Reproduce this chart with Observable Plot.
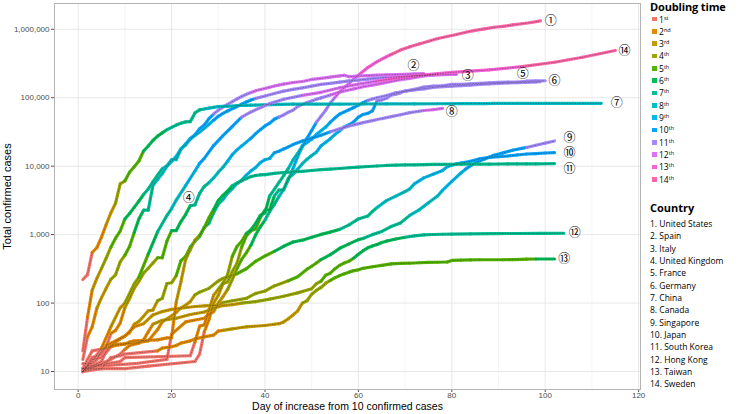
<!DOCTYPE html>
<html><head><meta charset="utf-8">
<script src="https://cdn.jsdelivr.net/npm/d3@7"></script>
<script src="https://cdn.jsdelivr.net/npm/@observablehq/plot@0.6"></script>
<style>
body{margin:0;background:#fff;}
#wrap{position:relative;width:738px;height:414px;overflow:hidden;background:#fff;}
#chart{position:absolute;left:0;top:0;}
.lg{position:absolute;font-family:"Open Sans","Noto Sans",sans-serif;color:#000;white-space:nowrap;}
</style></head><body>
<div id="wrap"><div id="chart"></div></div>
<script>
// ---- data: [day, total cases, doubling number (carried forward when omitted)]
const unitedStates = [[1,11,1],[4,12],[12,13],[19,15],[20,35,2],[23,53],[27,60],[28,68],[29,75,3],[30,100],[31,124],[32,158,4],[33,221],[34,319,5],[35,435],[36,541],[37,704,6],[38,994],[39,1301],[40,1630,7],[41,2183],[42,2770],[43,3613,8],[44,4596],[45,6344],[46,9197,9],[47,13779],[48,19273,10],[49,25600],[50,33276],[51,43847,11],[52,53740],[53,65778],[54,83836],[55,101657,12],[56,121465],[57,140909],[58,161831],[59,188172],[60,213242,13],[62,275367],[64,336802],[66,397121],[67,428654,14],[69,496535],[71,555313],[73,607670],[75,667592],[77,732197],[79,784326],[81,840351],[83,905358],[85,965785],[87,1012582],[89,1069424],[91,1103000],[93,1158000],[95,1204000],[97,1257000],[99,1329000]];
const spain = [[1,15,1],[2,32,2],[3,45],[4,84,3],[5,120],[6,165],[7,222,4],[8,259],[9,400],[10,500,5],[11,673],[12,1073,6],[13,1695],[14,2277,7],[15,2277],[16,5232,8],[17,6391],[18,7798],[19,9942],[20,11748,9],[21,13910],[22,17963],[23,20410],[24,25374,10],[25,28768],[26,35136],[27,39885],[28,49515],[29,57786,11],[30,65719],[31,73235],[32,80110],[33,87956],[34,95923],[35,104118],[36,112065],[37,119199,12],[38,126168],[39,131646],[40,136675],[41,141942],[42,148220],[43,153222],[44,158273],[46,166831],[48,172541],[50,184948],[52,191726],[54,200210],[56,208389],[57,213024],[58,202990],[60,207634],[62,210773],[64,213435],[66,216582],[68,218011],[70,220325],[72,222857],[74,224350]];
const italy = [[1,20,1],[2,62,2],[3,155,3],[4,229],[5,322,4],[6,453],[7,655,5],[8,888],[9,1128],[10,1694,6],[11,2036],[12,2502],[13,3089],[14,3858,7],[15,4636],[16,5883],[17,7375],[18,9172,8],[19,10149],[20,12462],[21,12462],[22,17660],[23,21157,9],[24,24747],[25,27980],[26,31506],[27,35713],[28,41035],[29,47021,10],[30,53578],[31,59138],[32,63927],[33,69176],[34,74386],[35,80589],[36,86498],[37,92472],[38,97689,11],[39,101739],[40,105792],[42,115242],[44,124632],[46,132547],[48,139422],[50,147577],[52,156363],[54,162488],[56,168941],[58,175925],[60,181228],[62,187327],[64,192994],[66,197675,12],[68,201505],[70,205463],[72,209328],[74,211938],[76,214457],[78,217185],[80,219070],[81,219814]];
const unitedKingdom = [[1,13,1],[3,13],[4,15],[5,20],[6,23],[7,36,2],[8,40],[9,51],[10,86,3],[11,116],[12,164],[13,207,4],[14,274],[15,322],[16,384],[17,459,5],[18,459],[19,802],[20,1144,6],[21,1145],[22,1551],[23,1960],[24,2642,7],[25,2716],[26,4014],[27,5067],[28,5745,8],[29,6726],[30,8164],[31,9640],[32,11812,9],[33,14745],[34,17312],[35,19780],[36,22453],[37,25481,10],[38,29865],[39,34173],[40,38689],[41,42477],[42,48436],[43,52279,11],[44,55949],[45,61474],[46,65872],[47,74605],[48,79874],[49,85206],[50,89570],[51,94845],[52,99483],[54,109769,12],[56,121172],[59,134638],[61,144640],[63,153145],[65,162350],[67,172481],[69,183500],[71,191832],[73,202359],[75,212629],[77,220449,13]];
const france = [[1,11,1],[10,11],[15,12],[25,14],[26,18],[27,38,2],[28,57],[29,100,3],[30,130],[31,191],[32,204,4],[33,288],[34,380],[35,656,5],[36,957],[37,1134],[38,1217],[39,1792,6],[40,2289],[41,2289],[42,3672,7],[43,4480],[44,4513],[45,6650],[46,7652,8],[47,9043],[48,10871],[49,12612],[50,14282],[51,16018,9],[52,19856],[53,22304],[54,25233],[55,29155],[56,32964],[57,37575,10],[58,40174],[59,44550],[60,52128],[61,56989],[62,59105],[63,64338],[64,89953,11],[65,92839],[66,98010],[67,109069],[68,112950],[69,117749],[70,124869],[72,132591],[74,143303],[76,147969],[78,149149],[80,156480],[82,157125],[84,159952],[86,162100],[88,165093],[90,167299],[92,168518],[94,169462],[96,174224],[98,176202],[100,176970]];
const germany = [[1,10,1],[2,12],[6,13],[9,14],[10,16],[24,17],[25,27,2],[26,46],[27,48],[28,79,3],[29,130],[30,159,4],[31,196],[32,262],[33,482,5],[34,670],[35,799],[36,1040,6],[37,1176],[38,1457],[39,1908],[40,2078],[41,3675,7],[42,4585],[43,5795],[44,7272],[45,9257,8],[46,12327],[47,15320],[48,19848,9],[49,22213],[50,24873],[51,29056],[52,32986],[53,37323],[54,43938,10],[55,50871],[56,57695],[57,62095],[58,66885],[59,71808],[60,77872],[61,84794],[62,91159,11],[63,96092],[64,100123],[66,107663],[68,118181],[70,124908],[72,130072],[74,134753],[76,141397],[78,145184],[80,147065],[82,150648],[84,153129],[86,156513],[88,159119],[90,161539],[92,164077],[94,165664],[96,167300],[98,169575],[99,171324]];
const china = [[1,221,1],[2,260],[3,548,2],[4,643],[5,920],[6,1406,3],[7,2075],[8,2877,4],[9,5509],[10,6087,5],[11,8141],[12,9802],[13,11891],[14,16630,6],[15,19716],[16,23707],[17,27440],[18,30587],[19,34110,7],[20,36814],[21,39829],[22,42354],[23,44386],[24,44759],[25,59895],[26,66358],[27,68413,8],[28,70513],[29,72434],[30,74211],[31,74619],[32,75077],[33,75550],[34,77001],[35,77022],[36,77241],[37,77754],[38,78166],[41,79356],[46,80552],[51,80757],[56,80844],[61,80967],[66,81218],[72,81554],[77,81708],[82,81907],[87,82249],[89,82692],[94,82804],[100,82862],[106,82880],[112,82901]];
const canada = [[1,10,1],[2,11],[4,13],[5,14],[6,20,2],[7,24],[8,27],[9,30],[10,33],[11,37],[12,49,3],[13,54],[14,64],[15,77],[16,79],[17,108,4],[18,117],[19,193],[20,198],[21,252,5],[22,415],[23,478],[24,657,6],[25,800],[26,943],[27,1277],[28,1469,7],[29,2088],[30,2790],[31,3251,8],[32,4042],[33,4682],[34,5576],[35,6280],[36,7398,9],[37,8527],[38,9560],[39,11284],[40,12437],[41,12978],[42,15756,10],[43,16563],[44,17872],[45,19141],[46,20654],[48,23316],[50,25680],[52,28379],[54,31927,11],[56,35056],[57,36831],[59,40179],[61,43299],[63,46371],[65,49616],[67,52865],[69,56343],[71,60504],[73,63496],[74,65000,12],[76,66780],[78,69981]];
const singapore = [[1,10,1],[3,16],[5,18],[6,24,2],[8,28],[10,33],[12,45],[14,50,3],[16,67],[18,75],[20,81],[22,84],[25,89],[27,91],[30,93],[31,102,4],[33,108],[36,117],[38,138],[40,150],[42,178],[45,212,5],[47,243],[49,313],[50,345],[51,385],[52,432,6],[54,509],[56,631],[58,732],[60,844],[61,879,7],[63,1000],[65,1114],[67,1309],[69,1481],[71,1910,8],[73,2299],[75,2918],[77,3699],[78,4427,9],[80,5992],[82,8014],[83,9125,10],[85,11178],[87,12693],[89,14423],[91,15641],[93,17101],[95,18205],[96,18778,11],[98,20198],[100,21707],[102,23336]];
const japan = [[1,11,1],[2,15],[3,20],[6,22,2],[8,25],[12,26],[15,28],[17,41],[18,53,3],[19,59],[20,65],[21,73],[22,85],[23,93],[24,105],[25,132,4],[26,144],[28,164],[30,210],[31,230],[32,239],[34,268,5],[36,317],[38,408],[40,488],[42,568,6],[44,675],[46,780],[48,829],[50,914],[52,1007],[54,1089],[56,1193,7],[58,1387],[60,1693],[62,1866],[63,2178],[64,2495,8],[66,3139],[68,3654],[70,4257],[71,4667],[72,5530,9],[74,6748],[76,7645],[78,8626],[79,9787],[80,10296],[81,10797],[82,11135,10],[84,11772],[86,12829],[88,13441],[90,13736],[92,14088],[94,14571],[96,15057],[98,15253],[100,15575],[102,15777]];
const southKorea = [[1,11,1],[2,12],[3,15],[5,16],[6,19],[7,23,2],[8,24],[10,25],[11,27],[12,28],[17,29],[18,30],[19,31],[20,31],[21,104,3],[22,204],[23,433,4],[24,602],[25,833],[26,977,5],[27,1261],[28,1766],[29,2337,6],[30,3150],[31,3736],[32,4335],[33,5186,7],[34,5621],[35,6088],[36,6593],[37,7041],[38,7314],[39,7478],[40,7513],[42,7869],[44,8086],[46,8236],[48,8413],[50,8652],[52,8897],[54,9037],[56,9241],[58,9478],[60,9661],[62,9887],[64,10062],[66,10237],[68,10331],[70,10423],[72,10480],[74,10537],[76,10591],[78,10635],[80,10661],[82,10683],[84,10702],[86,10718],[88,10738],[90,10761],[92,10774],[94,10793],[96,10804],[98,10810],[100,10840],[102,10909]];
const hongKong = [[1,10,1],[4,12],[5,13],[6,14],[7,15],[9,18],[10,21,2],[11,24],[13,26],[14,29],[15,38],[16,49,3],[18,56],[21,60],[24,68],[27,74],[29,84],[31,92],[33,95],[35,100,4],[38,105],[41,114],[44,126],[47,141],[50,162],[51,192],[52,208,5],[53,256],[54,273],[55,318],[56,356],[57,386],[58,410],[59,453,6],[60,518],[61,582],[62,641],[63,682],[64,715],[65,765],[66,802],[68,862],[70,915,7],[72,960],[74,990],[76,1004],[78,1013],[80,1019],[84,1026],[89,1037],[94,1038],[99,1040],[104,1047]];
const taiwan = [[1,10,1],[5,11],[7,16],[9,17],[10,18],[17,20,2],[18,22],[20,23],[21,24],[22,26],[24,28],[25,30],[27,32],[29,34],[30,39],[31,40,3],[33,42],[35,44],[36,45],[40,47],[42,49],[43,50],[44,53],[45,59],[46,67],[47,77],[48,100,4],[49,108],[50,135],[51,153],[52,169],[53,195],[54,215,5],[55,235],[56,252],[57,267],[58,283],[59,298],[60,306],[61,322],[63,339],[65,355],[67,373],[69,379],[71,382],[73,388],[75,393],[77,395],[79,398],[80,420],[82,425],[84,427],[86,429],[91,429],[93,432],[95,436],[96,438],[98,440,6],[102,440]];
const sweden = [[1,10,1],[3,14],[5,22,2],[7,45,3],[9,85],[10,100,4],[12,190],[13,240,5],[15,520,6],[17,1100,7],[19,1900],[20,2400,8],[21,3200],[23,5200,9],[25,8500],[26,11000,10],[27,13000],[29,20000],[31,28000],[33,38000],[35,52000,11],[37,62000],[41,82000],[44,95000],[48,108000,12],[52,120000],[56,140000],[60,158000],[64,175000,13],[68,192000],[73,212000],[80,235000],[88,255000],[95,285000,14],[102,330000],[108,390000],[115,490000]];

const countries = ["United States","Spain","Italy","United Kingdom","France","Germany","China","Canada","Singapore","Japan","South Korea","Hong Kong","Taiwan","Sweden"];
const series = [unitedStates, spain, italy, unitedKingdom, france, germany, china, canada, singapore, japan, southKorea, hongKong, taiwan, sweden];
const doublingLabels = ["1st","2nd","3rd","4th","5th","6th","7th","8th","9th","10th","11th","12th","13th","14th"];
const palette = ["#F8766D","#E38900","#C49A00","#99A800","#53B400","#00BC56","#00C094","#00BFC4","#00B6EB","#06A4FF","#A58AFF","#DF70F8","#FB61D7","#FF66A8"];
const xTicks = [0,20,40,60,80,100,120];
const xMinor = [10,30,50,70,90,110];
const yTicks = [10,100,1000,10000,100000,1000000];
// label positions: [country number, day, cases]
const endLabels = [[1,101.2,1.32e6],[2,71.8,2.88e5],[3,83.4,2.07e5],[4,23.7,3390],[5,95.2,2.2e5],[6,102,1.74e5],[7,115.3,8.28e4],[8,80,6.1e4],[9,105.2,2.6e4],[10,105.2,1.54e4],[11,105.2,9100],[12,106.3,1050],[13,104.1,434],[14,117,4.76e5]];

// ---- build tables
const points = [];
series.forEach((s, ci) => {
  let dbl = 1;
  s.forEach(p => { if (p.length > 2) dbl = p[2]; points.push({country: ci, day: p[0], cases: p[1], dbl}); });
});
const segs = [];
for (let i = 1; i < points.length; i++) {
  const a = points[i-1], b = points[i];
  if (a.country === b.country) segs.push({x1: a.day, y1: a.cases, x2: b.day, y2: b.cases, dbl: a.dbl});
}

const chart = Plot.plot({
  width: 738, height: 414,
  marginLeft: 54, marginRight: 98, marginTop: 3, marginBottom: 25,
  style: {fontFamily: "'Liberation Sans', Arial, sans-serif", fontSize: "8px", color: "#4d4d4d", background: "white"},
  x: {domain: [-5.07, 120.4], ticks: xTicks, tickSize: 3, tickPadding: 0, label: null},
  y: {type: "log", domain: [5.46, 2.38e6], ticks: yTicks, tickFormat: d3.format(","), tickSize: 3, tickPadding: 2, label: null},
  color: {domain: d3.range(1, 15), range: palette},
  marks: [
    Plot.ruleX(xMinor, {stroke: "#efefef", strokeWidth: 0.6}),
    Plot.ruleX(xTicks, {stroke: "#e2e2e2", strokeWidth: 0.8}),
    Plot.ruleY(yTicks, {stroke: "#e2e2e2", strokeWidth: 0.8}),
    Plot.frame({stroke: "#b3b3b3", strokeWidth: 1}),
    Plot.link(segs, {x1: "x1", y1: "y1", x2: "x2", y2: "y2", stroke: "dbl", strokeWidth: 3.2, strokeLinecap: "round"}),
    Plot.line(points, {x: "day", y: "cases", z: "country", stroke: "#2a2a2a", strokeOpacity: 0.4, strokeWidth: 1, strokeDasharray: "1,1.6"}),
    Plot.text(endLabels, {x: d => d[1], y: d => d[2], text: d => String.fromCodePoint(0x2460 + d[0] - 1), fontSize: 12, fontFamily: "'Noto Sans CJK JP', 'DejaVu Sans', sans-serif", fill: "#000"}),
    Plot.text(["Total confirmed cases"], {text: d => d, frameAnchor: "left", dx: -47, rotate: -90, textAnchor: "middle", fontSize: 11, fill: "#000"}),
    Plot.text(["Day of increase from 10 confirmed cases"], {text: d => d, frameAnchor: "bottom", dy: 20, textAnchor: "middle", fontSize: 10.5, fill: "#000"})
  ]
});
document.getElementById("chart").appendChild(chart);

// ---- legends
const wrap = document.getElementById("wrap");
function add(html, left, top, css) {
  const el = document.createElement("div");
  el.className = "lg"; el.innerHTML = html;
  el.style.left = left + "px"; el.style.top = top + "px";
  Object.assign(el.style, css || {});
  wrap.appendChild(el); return el;
}
add("Doubling time", 650, 0, {fontSize: "11px", fontWeight: "700", lineHeight: "13px", letterSpacing: "-0.15px"});
doublingLabels.forEach((lab, i) => {
  const cy = 19 + 12.33 * i;
  add("", 652, cy - 2.3, {width: "4.6px", height: "4.6px", background: palette[i]});
  add(lab.slice(0, -2) + '<span style="font-size:5.5px;position:relative;top:-3px">' + lab.slice(-2) + "</span>", 659, cy - 5.5, {fontSize: "8.5px", lineHeight: "11px"});
});
add("Country", 650, 201, {fontSize: "11px", fontWeight: "700", lineHeight: "13px"});
countries.forEach((c, i) => {
  const cy = 223.3 + 12.36 * i;
  add((i + 1) + ". " + c, 650, cy - 5.5, {fontSize: "8.5px", lineHeight: "11px"});
});
</script></body></html>
